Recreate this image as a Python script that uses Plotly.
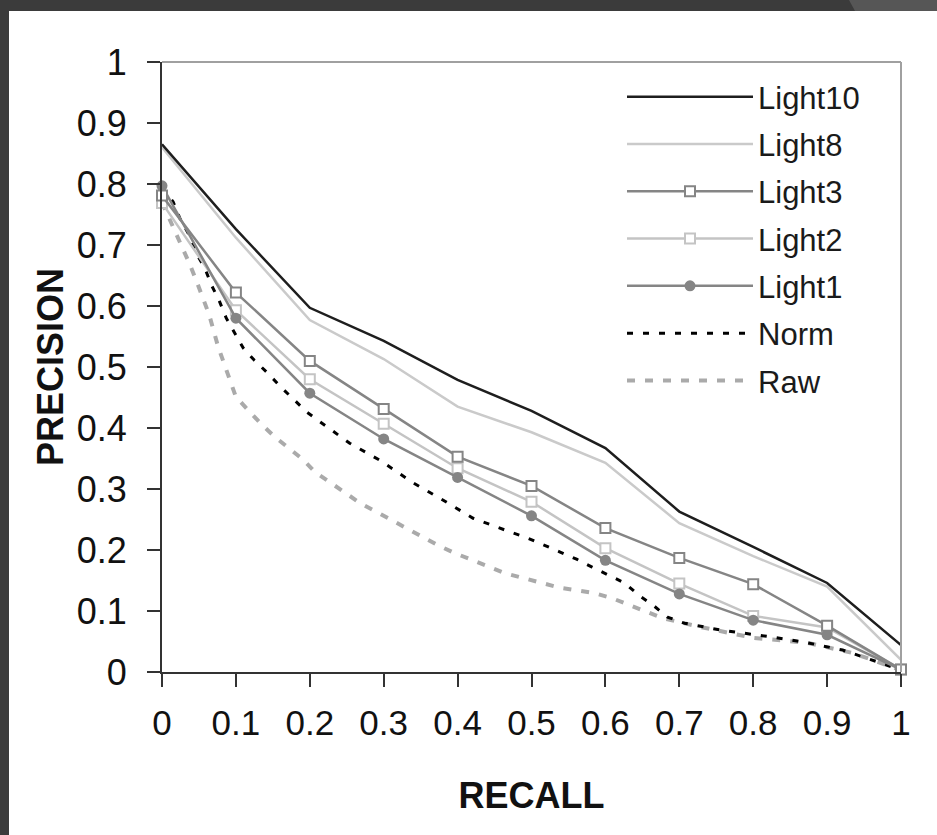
import plotly.graph_objects as go

recall = [0, 0.1, 0.2, 0.3, 0.4, 0.5, 0.6, 0.7, 0.8, 0.9, 1.0]

light10 = [0.865, 0.726, 0.597, 0.543, 0.479, 0.428, 0.367, 0.263, 0.205, 0.146, 0.044]
light8 = [0.860, 0.712, 0.577, 0.513, 0.435, 0.393, 0.343, 0.244, 0.190, 0.140, 0.020]
light3 = [0.781, 0.622, 0.510, 0.431, 0.353, 0.305, 0.236, 0.187, 0.144, 0.076, 0.004]
light2 = [0.769, 0.593, 0.480, 0.407, 0.334, 0.279, 0.203, 0.145, 0.092, 0.073, 0.004]
light1 = [0.797, 0.580, 0.457, 0.382, 0.319, 0.256, 0.183, 0.128, 0.085, 0.061, 0.004]

norm_x = [0, 0.015, 0.024, 0.037, 0.046, 0.058, 0.067, 0.077, 0.087, 0.098, 0.11, 0.125,
          0.143, 0.161, 0.177, 0.196, 0.214, 0.254, 0.295, 0.34, 0.38, 0.421, 0.468,
          0.494, 0.538, 0.561, 0.582, 0.605, 0.626, 0.645, 0.664, 0.684, 0.707, 0.755,
          0.827, 0.873, 0.921, 0.972, 1.0]
norm_y = [0.795, 0.771, 0.744, 0.716, 0.687, 0.662, 0.634, 0.61, 0.58, 0.556, 0.531, 0.511,
          0.49, 0.467, 0.449, 0.426, 0.41, 0.375, 0.347, 0.31, 0.282, 0.252, 0.231,
          0.22, 0.197, 0.185, 0.172, 0.159, 0.146, 0.126, 0.11, 0.09, 0.08, 0.069,
          0.057, 0.048, 0.036, 0.015, 0.003]

raw_x = [0, 0.028, 0.037, 0.046, 0.055, 0.064, 0.076, 0.085, 0.1, 0.116, 0.133, 0.153,
         0.171, 0.191, 0.207, 0.228, 0.248, 0.268, 0.291, 0.311, 0.331, 0.353, 0.373,
         0.396, 0.419, 0.441, 0.464, 0.489, 0.509, 0.539, 0.561, 0.586, 0.609, 0.633,
         0.656, 0.678, 0.728, 0.8, 0.873, 0.935, 1.0]
raw_y = [0.77, 0.697, 0.67, 0.643, 0.615, 0.585, 0.533, 0.503, 0.451, 0.43, 0.408, 0.385,
         0.367, 0.348, 0.328, 0.311, 0.295, 0.277, 0.262, 0.249, 0.236, 0.222, 0.208,
         0.195, 0.184, 0.172, 0.162, 0.154, 0.148, 0.138, 0.134, 0.129, 0.121, 0.11,
         0.098, 0.088, 0.074, 0.056, 0.048, 0.031, 0.003]

x_ticks = [0, 0.1, 0.2, 0.3, 0.4, 0.5, 0.6, 0.7, 0.8, 0.9, 1]
x_labels = ["0", "0.1", "0.2", "0.3", "0.4", "0.5", "0.6", "0.7", "0.8", "0.9", "1"]
y_ticks = [0, 0.1, 0.2, 0.3, 0.4, 0.5, 0.6, 0.7, 0.8, 0.9, 1]
y_labels = ["0", "0.1", "0.2", "0.3", "0.4", "0.5", "0.6", "0.7", "0.8", "0.9", "1"]

FONT = "Liberation Sans, Arial, sans-serif"

fig = go.Figure()

fig.add_trace(go.Scatter(x=raw_x, y=raw_y, name="Raw", mode="lines",
                         line=dict(color="#aaaaaa", width=4, dash="8px,10px"),
                         legendrank=7, legendgroup="g7"))
fig.add_trace(go.Scatter(x=norm_x, y=norm_y, name="Norm", mode="lines",
                         line=dict(color="#000000", width=3, dash="6px,10px"),
                         legendrank=6, legendgroup="g6"))
fig.add_trace(go.Scatter(x=recall, y=light8, name="Light8", mode="lines",
                         line=dict(color="#cacaca", width=2.5),
                         legendrank=2, legendgroup="g2"))
fig.add_trace(go.Scatter(x=recall, y=light10, name="Light10", mode="lines",
                         line=dict(color="#1e1e1e", width=2.5),
                         legendrank=1, legendgroup="g1"))
fig.add_trace(go.Scatter(x=recall, y=light2, name="Light2", mode="lines+markers",
                         line=dict(color="#c4c4c4", width=2.5),
                         marker=dict(symbol="square", size=10, color="white",
                                     line=dict(color="#c4c4c4", width=2)),
                         legendrank=4, legendgroup="g4"))
fig.add_trace(go.Scatter(x=recall, y=light1, name="Light1", mode="lines+markers",
                         line=dict(color="#858585", width=2.5),
                         marker=dict(symbol="circle", size=11, color="#858585"),
                         legendrank=5, legendgroup="g5"))
fig.add_trace(go.Scatter(x=recall, y=light3, name="Light3", mode="lines+markers",
                         line=dict(color="#858585", width=2.5),
                         marker=dict(symbol="square", size=10, color="white",
                                     line=dict(color="#858585", width=2)),
                         legendrank=3, legendgroup="g3"))

fig.update_traces(cliponaxis=False)

L, R, T, B = 162, 36, 62, 163
W, H = 937, 835
pw, ph = W - L - R, H - T - B


def px(xp):
    return (xp - L) / pw


def py(yp):
    return (H - B - yp) / ph


shapes = [
    dict(type="line", xref="paper", yref="paper", x0=0, x1=1, y0=1, y1=1,
         line=dict(color="#a0a0a0", width=2)),
    dict(type="line", xref="paper", yref="paper", x0=1, x1=1, y0=0, y1=1,
         line=dict(color="#a0a0a0", width=2)),
    dict(type="rect", xref="paper", yref="paper", x0=px(0), x1=px(W), y0=py(11), y1=py(0),
         fillcolor="#3b3b3b", line=dict(width=0), layer="above"),
    dict(type="rect", xref="paper", yref="paper", x0=px(0), x1=px(9), y0=py(H), y1=py(0),
         fillcolor="#3b3b3b", line=dict(width=0), layer="above"),
    dict(type="path", xref="paper", yref="paper",
         path=f"M {px(849)},{py(0)} L {px(W)},{py(0)} L {px(W)},{py(11)} L {px(855)},{py(11)} Z",
         fillcolor="#565656", line=dict(width=0), layer="above"),
]

fig.update_layout(
    width=W, height=H,
    margin=dict(l=L, r=R, t=T, b=B, pad=0),
    paper_bgcolor="white", plot_bgcolor="white",
    font=dict(family=FONT, color="#1a1a1a"),
    showlegend=True,
    legend=dict(x=px(622), y=py(70), xanchor="left", yanchor="top",
                bgcolor="rgba(0,0,0,0)", borderwidth=0,
                font=dict(size=31, family=FONT, color="#1a1a1a"),
                itemwidth=126, tracegroupgap=4, traceorder="grouped"),
    shapes=shapes,
    xaxis=dict(range=[0, 1], tickvals=x_ticks, ticktext=x_labels,
               showgrid=False, zeroline=False, showline=True, linecolor="#333333", linewidth=2,
               ticks="outside", ticklen=13, tickwidth=2, tickcolor="#333333",
               ticklabelstandoff=6,
               tickfont=dict(size=35, family=FONT, color="#111111"),
               title=dict(text="<b>RECALL</b>", font=dict(size=36, family=FONT, color="#111111"),
                          standoff=42)),
    yaxis=dict(range=[0, 1], tickvals=y_ticks, ticktext=y_labels,
               showgrid=False, zeroline=False, showline=True, linecolor="#333333", linewidth=2,
               ticks="outside", ticklen=13, tickwidth=2, tickcolor="#333333",
               ticklabelstandoff=13,
               tickfont=dict(size=36, family=FONT, color="#111111"),
               title=dict(text="<b>PRECISION</b>", font=dict(size=36, family=FONT, color="#111111"),
                          standoff=2)),
)

fig.write_html("out.html")
